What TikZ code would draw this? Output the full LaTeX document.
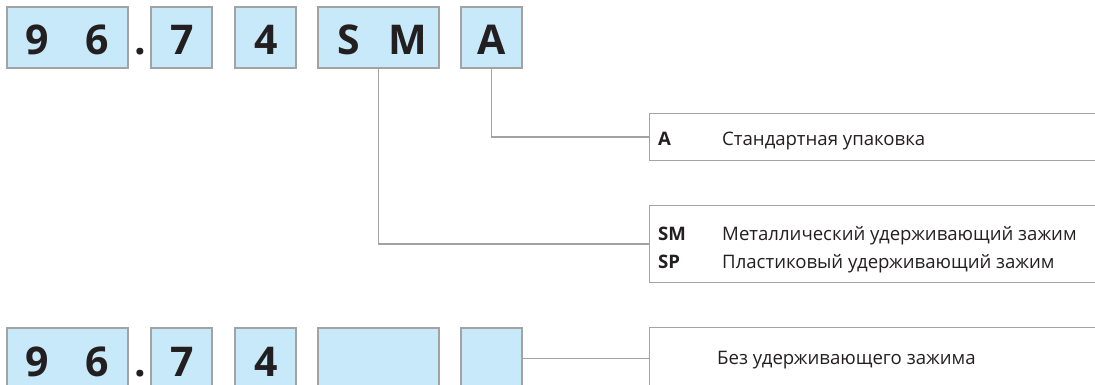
\documentclass[tikz,border=0pt]{standalone}
\usepackage{fontspec}
\setmainfont{Open Sans}
\definecolor{boxfill}{HTML}{C7E9F9}
\definecolor{edgegray}{HTML}{A3A3A3}
\definecolor{ink}{HTML}{231F20}
\begin{document}
\begin{tikzpicture}[x=1pt,y=-1pt,
  cbox/.style={draw=edgegray, fill=boxfill, line width=1.3pt, minimum height=61pt, inner sep=0pt},
  digit/.style={font=\fontsize{41}{41}\selectfont\bfseries, text=ink, inner sep=0pt, anchor=base},
  panelbox/.style={minimum width=445pt, inner sep=0pt},
  conn/.style={draw=edgegray, line width=1.3pt},
  codetext/.style={font=\fontsize{18.6}{20}\selectfont\bfseries, text=ink, anchor=base west, inner sep=0pt},
  desctext/.style={font=\fontsize{18.6}{20}\selectfont, text=ink, anchor=base west, inner sep=0pt}]
\useasboundingbox (0,0) rectangle (1095,385);

% top row
\node[cbox, minimum width=121pt] (b1) at (67.5,37.5) {};
\node[cbox, minimum width=61pt] (b2) at (181.5,37.5) {};
\node[cbox, minimum width=61pt] (b3) at (265.5,37.5) {};
\node[cbox, minimum width=121pt] (b4) at (378.5,37.5) {};
\node[cbox, minimum width=61pt] (b5) at (491.5,37.5) {};
\node[digit] (d9) at (37.5,55) {9};
\node[digit] (d6) at (97.5,55) {6};
\node[digit] (dot) at (140,55) {.};
\node[digit] (d7) at (182,55) {7};
\node[digit] (d4) at (266,55) {4};
\node[digit] (dS) at (349,55) {S};
\node[digit] (dM) at (408,55) {M};
\node[digit] (dA) at (492,55) {A};

% bottom row
\node[cbox, minimum width=121pt] (c1) at (67.5,358.5) {};
\node[cbox, minimum width=61pt] (c2) at (181.5,358.5) {};
\node[cbox, minimum width=61pt] (c3) at (265.5,358.5) {};
\node[cbox, minimum width=121pt] (c4) at (378.5,358.5) {};
\node[cbox, minimum width=61pt] (c5) at (491.5,358.5) {};
\node[digit] (e9) at (37.5,376) {9};
\node[digit] (e6) at (97.5,376) {6};
\node[digit] (edot) at (140,376) {.};
\node[digit] (e7) at (182,376) {7};
\node[digit] (e4) at (266,376) {4};

% panels
\node[panelbox, minimum height=46pt] (pA) at (872.5,137) {};
\node[panelbox, minimum height=76pt] (pS) at (872.5,244) {};
\node[panelbox, minimum height=61pt] (pN) at (872.5,358.5) {};
\draw[conn] (pA.north east) -- (pA.north west) -- (pA.south west) -- (pA.south east);
\draw[conn] (pS.north east) -- (pS.north west) -- (pS.south west) -- (pS.south east);
\draw[conn] (pN.north east) -- (pN.north west) -- (pN.south west) -- (pN.south east);

% connectors
\draw[conn] (b5.south) |- (pA.west);
\draw[conn] (b4.south) |- (pS.west);
\draw[conn] (c5.east) -- (pN.west);

% texts
\node[codetext] (tA) at (658,145.5) {A};
\node[desctext] (tAd) at (722,145.5) {Стандартная упаковка};
\node[codetext] (tSM) at (658,240) {SM};
\node[desctext] (tSMd) at (722,240) {Металлический удерживающий зажим};
\node[codetext] (tSP) at (658,268) {SP};
\node[desctext] (tSPd) at (722,268) {Пластиковый удерживающий зажим};
\node[desctext] (tN) at (717,364.5) {Без удерживающего зажима};
\end{tikzpicture}
\end{document}
